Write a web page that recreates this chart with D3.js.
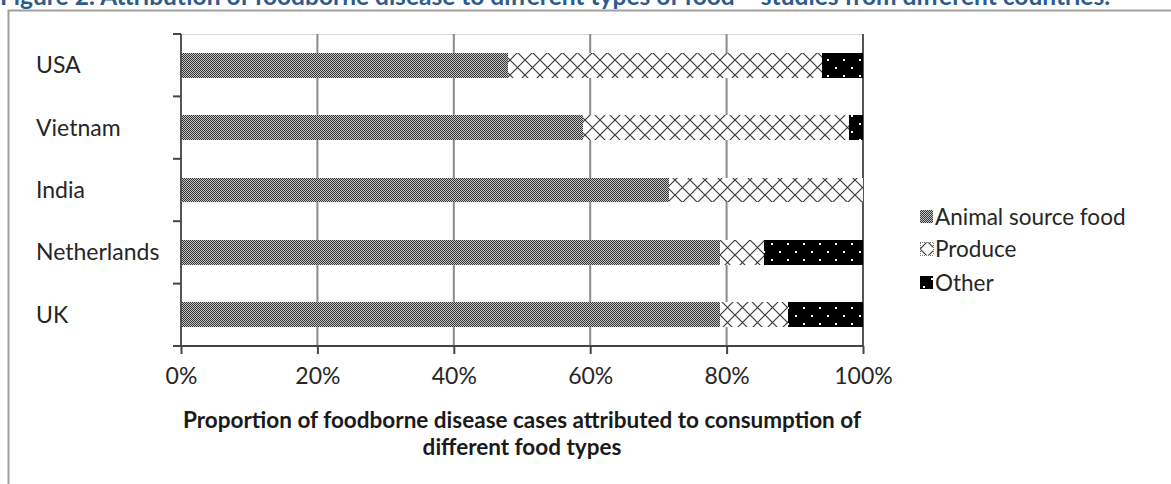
<!DOCTYPE html>
<html>
<head>
<meta charset="utf-8">
<script src="https://cdn.jsdelivr.net/npm/d3@7"></script>
<style>
  html, body { margin: 0; padding: 0; background: #fff; overflow: hidden; }
  svg { display: block; }
</style>
</head>
<body>
<svg id="chart" width="1171" height="484"></svg>
<script>
// Attribution of foodborne disease cases by food type, per country (percent)
const countries = ["USA", "Vietnam", "India", "Netherlands", "UK"];
const animalSource = [48, 59, 71.5, 79, 79];
const produce = [46, 39, 28.5, 6.5, 10];
const other = [6, 2, 0, 14.5, 11];
const seriesNames = ["Animal source food", "Produce", "Other"];
const xTicks = [0, 20, 40, 60, 80, 100];

const titleText = "Figure 2: Attribution of foodborne disease to different types of food – studies from different countries.";
const axisTitle = ["Proportion of foodborne disease cases attributed to consumption of", "different food types"];

const FONT = "Lato, 'Open Sans', sans-serif";
const TEXT_COLOR = "#262626";

const svg = d3.select("#chart");
const defs = svg.append("defs");

// Fill patterns for the three series
const pAnimal = defs.append("pattern").attr("id", "pat-animal")
  .attr("patternUnits", "userSpaceOnUse").attr("width", 2).attr("height", 2);
pAnimal.append("rect").attr("width", 2).attr("height", 2).attr("fill", "#c4c4c4");
pAnimal.append("rect").attr("x", 0).attr("y", 0).attr("width", 1).attr("height", 1).attr("fill", "#333");
pAnimal.append("rect").attr("x", 1).attr("y", 1).attr("width", 1).attr("height", 1).attr("fill", "#333");

const pProduce = defs.append("pattern").attr("id", "pat-produce")
  .attr("patternUnits", "userSpaceOnUse").attr("width", 15).attr("height", 15);
pProduce.append("rect").attr("width", 15).attr("height", 15).attr("fill", "#fff");
pProduce.append("path").attr("d", "M0,0L15,15M15,0L0,15")
  .attr("stroke", "#3a3a3a").attr("stroke-width", 1.2).attr("fill", "none");

const pOther = defs.append("pattern").attr("id", "pat-other")
  .attr("patternUnits", "userSpaceOnUse").attr("width", 16).attr("height", 16);
pOther.append("rect").attr("width", 16).attr("height", 16).attr("fill", "#000");
pOther.append("rect").attr("x", 3).attr("y", 3).attr("width", 2).attr("height", 2).attr("fill", "#fff");
pOther.append("rect").attr("x", 11).attr("y", 11).attr("width", 2).attr("height", 2).attr("fill", "#fff");

const fills = ["url(#pat-animal)", "url(#pat-produce)", "url(#pat-other)"];

// Caption (runs off the top edge)
svg.append("text")
  .attr("x", 0).attr("y", 5)
  .attr("font-family", FONT).attr("font-weight", "bold").attr("font-size", 24.5)
  .attr("fill", "#2c5c8e")
  .text(titleText);

// Outer frame
svg.append("path")
  .attr("d", "M8.5,484V10.5H1171")
  .attr("stroke", "#a0a0a0").attr("stroke-width", 2).attr("fill", "none");

// Scales
const x = d3.scaleLinear().domain([0, 100]).range([181, 863]);
const y = d3.scaleBand().domain(countries).range([34, 346]).paddingInner(0.6).paddingOuter(0.3);

// Light top border of plot area
svg.append("line")
  .attr("x1", x(0)).attr("x2", x(100)).attr("y1", 34.5).attr("y2", 34.5)
  .attr("stroke", "#d9d9d9").attr("stroke-width", 1);

// Vertical gridlines
svg.append("g").selectAll("line").data(xTicks.filter(d => d > 0)).join("line")
  .attr("x1", d => x(d)).attr("x2", d => x(d))
  .attr("y1", 34).attr("y2", 346)
  .attr("stroke", d => d === 100 ? "#555" : "#8a8a8a").attr("stroke-width", 2);

// Stacked bars
const rows = countries.map((c, i) => ({ country: c, vals: [animalSource[i], produce[i], other[i]] }));
const segs = [];
rows.forEach(r => {
  let acc = 0;
  r.vals.forEach((v, k) => {
    segs.push({ country: r.country, k, x0: acc, x1: acc + v });
    acc += v;
  });
});
svg.append("g").selectAll("rect").data(segs.filter(s => s.x1 > s.x0)).join("rect")
  .attr("x", d => x(d.x0)).attr("width", d => x(d.x1) - x(d.x0))
  .attr("y", d => y(d.country)).attr("height", y.bandwidth())
  .attr("fill", d => fills[d.k])
  .attr("shape-rendering", "crispEdges");

// X axis
const xAxis = d3.axisBottom(x).tickValues(xTicks).tickSize(8).tickPadding(14)
  .tickFormat(d => d + "%");
const gx = svg.append("g").attr("transform", "translate(0,346)").call(xAxis);
gx.select(".domain").attr("stroke", "#444").attr("stroke-width", 2).attr("d", `M${x(0) - 8},0H${x(100)}`);
gx.selectAll(".tick line").attr("stroke", "#444").attr("stroke-width", 2);
gx.selectAll(".tick text").attr("font-family", FONT).attr("font-size", 23).attr("fill", TEXT_COLOR);

// Y axis line with ticks on category boundaries
const step = y.step();
const yTickPos = d3.range(countries.length + 1).map(i => 34 + i * step);
svg.append("line")
  .attr("x1", x(0)).attr("x2", x(0)).attr("y1", 34).attr("y2", 346)
  .attr("stroke", "#555").attr("stroke-width", 2);
svg.append("g").selectAll("line").data(yTickPos).join("line")
  .attr("x1", x(0) - 8).attr("x2", x(0))
  .attr("y1", d => d).attr("y2", d => d)
  .attr("stroke", "#444").attr("stroke-width", 2);

// Category labels
svg.append("g").selectAll("text").data(countries).join("text")
  .attr("x", 36).attr("y", d => y(d) + y.bandwidth() / 2)
  .attr("dy", "0.35em")
  .attr("font-family", FONT).attr("font-size", 23).attr("fill", TEXT_COLOR)
  .text(d => d);

// Axis title
svg.append("g").selectAll("text").data(axisTitle).join("text")
  .attr("x", (x(0) + x(100)) / 2).attr("y", (d, i) => 428 + i * 27)
  .attr("text-anchor", "middle")
  .attr("font-family", FONT).attr("font-weight", "bold").attr("font-size", 22.5).attr("fill", "#1a1a1a")
  .text(d => d);

// Legend
const legend = svg.append("g").attr("transform", "translate(920,0)");
const legendY = [217, 249, 283];
seriesNames.forEach((name, k) => {
  const g = legend.append("g").attr("transform", `translate(0,${legendY[k]})`);
  g.append("rect").attr("x", 0).attr("y", -7).attr("width", 13).attr("height", 13)
    .attr("fill", fills[k])
    .attr("stroke", k === 1 ? "#777" : "none").attr("stroke-dasharray", k === 1 ? "1,1" : null)
    .attr("shape-rendering", "crispEdges");
  g.append("text").attr("x", 15).attr("y", 0).attr("dy", "0.35em")
    .attr("font-family", FONT).attr("font-size", 22.5).attr("fill", TEXT_COLOR)
    .text(name);
});
</script>
</body>
</html>
